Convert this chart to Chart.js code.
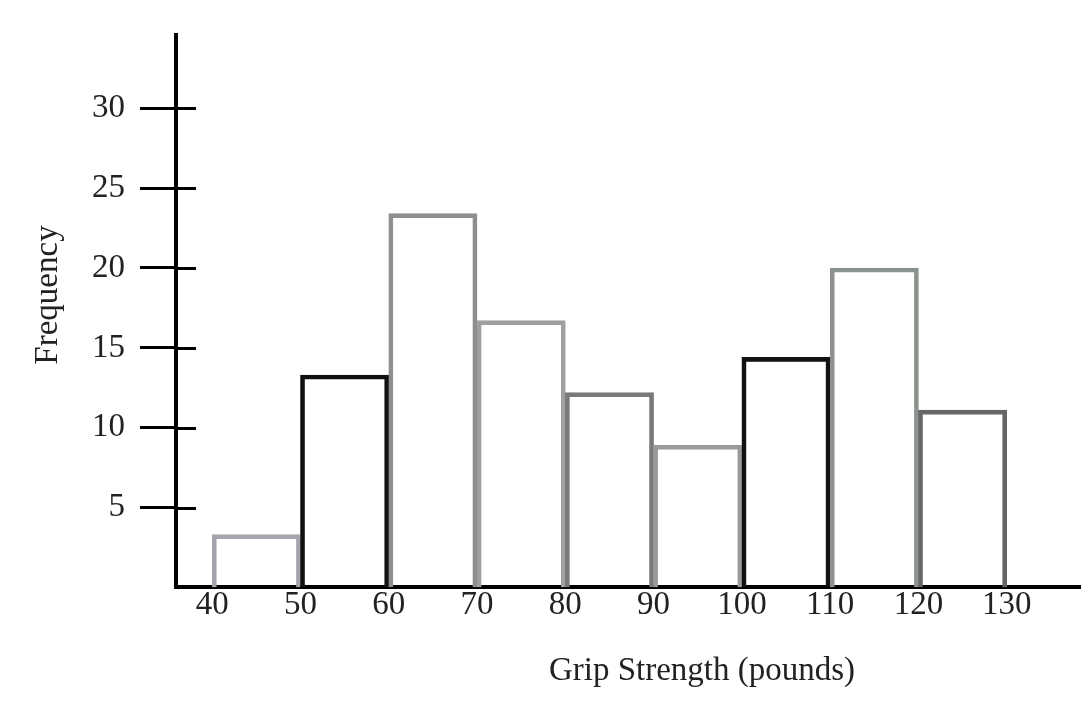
<!DOCTYPE html>
<html>
<head>
<meta charset="utf-8">
<script src="https://cdn.jsdelivr.net/npm/chart.js@4/dist/chart.umd.min.js"></script>
<style>
  html, body { margin: 0; padding: 0; background: #fff; }
  #wrap { width: 1087px; height: 716px; position: relative; }
</style>
</head>
<body>
<div id="wrap"><canvas id="gripChart"></canvas></div>
<script>
const binStarts = [40, 50, 60, 70, 80, 90, 100, 110, 120];
const frequencies = [3.3, 13.3, 23.4, 16.7, 12.2, 8.9, 14.4, 20, 11.1];
const xTicks = [40, 50, 60, 70, 80, 90, 100, 110, 120, 130];
const yTicks = [5, 10, 15, 20, 25, 30];
const edgeColors = ["#a4a4aa", "#111111", "#8e8e8e", "#a0a0a0", "#7a7a7a", "#9a9a9a", "#111111", "#8c928c", "#666666"];

const font = "'Liberation Serif', 'Times New Roman', serif";
const ink = "#222";

// crosses on the y axis + axis titles at their spots in the original
const axisDecor = {
  id: "axisDecor",
  afterDraw(chart) {
    const { ctx, chartArea, scales } = chart;
    ctx.save();
    ctx.strokeStyle = "#000";
    ctx.lineWidth = 3;
    yTicks.forEach((v) => {
      const py = Math.round(scales.y.getPixelForValue(v)) + 0.5;
      ctx.beginPath();
      ctx.moveTo(chartArea.left, py);
      ctx.lineTo(chartArea.left + 20, py);
      ctx.stroke();
    });
    ctx.fillStyle = ink;
    ctx.font = "33px " + font;
    ctx.textAlign = "center";
    ctx.textBaseline = "middle";
    ctx.fillText("Grip Strength (pounds)", 702, 671);
    ctx.translate(48, 295);
    ctx.rotate(-Math.PI / 2);
    ctx.fillText("Frequency", 0, 0);
    ctx.restore();
  },
};

new Chart(document.getElementById("gripChart"), {
  type: "bar",
  data: {
    datasets: [
      {
        data: binStarts.map((s, i) => ({ x: s + 5, y: frequencies[i] })),
        backgroundColor: "rgba(255,255,255,0)",
        borderColor: edgeColors,
        borderWidth: 4,
        borderSkipped: "bottom",
        barPercentage: 1,
        categoryPercentage: 1,
      },
    ],
  },
  options: {
    responsive: true,
    maintainAspectRatio: false,
    animation: false,
    layout: { padding: { left: 77, right: 7, top: 30, bottom: 101 } },
    plugins: { legend: { display: false }, tooltip: { enabled: false } },
    scales: {
      x: {
        type: "linear",
        min: 35.9,
        max: 138.3,
        offset: false,
        afterBuildTicks: (s) => { s.ticks = xTicks.map((v) => ({ value: v })); },
        grid: { display: false },
        border: { display: true, color: "#000", width: 4 },
        ticks: { color: ink, padding: -10, maxRotation: 0, autoSkip: false, font: { family: font, size: 33 } },
      },
      y: {
        min: 0,
        max: 34.6,
        afterBuildTicks: (s) => { s.ticks = yTicks.map((v) => ({ value: v })); },
        grid: { display: true, drawOnChartArea: false, drawTicks: true, tickLength: 36, tickColor: "#000", tickWidth: 3 },
        border: { display: true, color: "#000", width: 4 },
        ticks: { color: ink, padding: 15, font: { family: font, size: 33 } },
      },
    },
  },
  plugins: [axisDecor],
});
</script>
</body>
</html>
